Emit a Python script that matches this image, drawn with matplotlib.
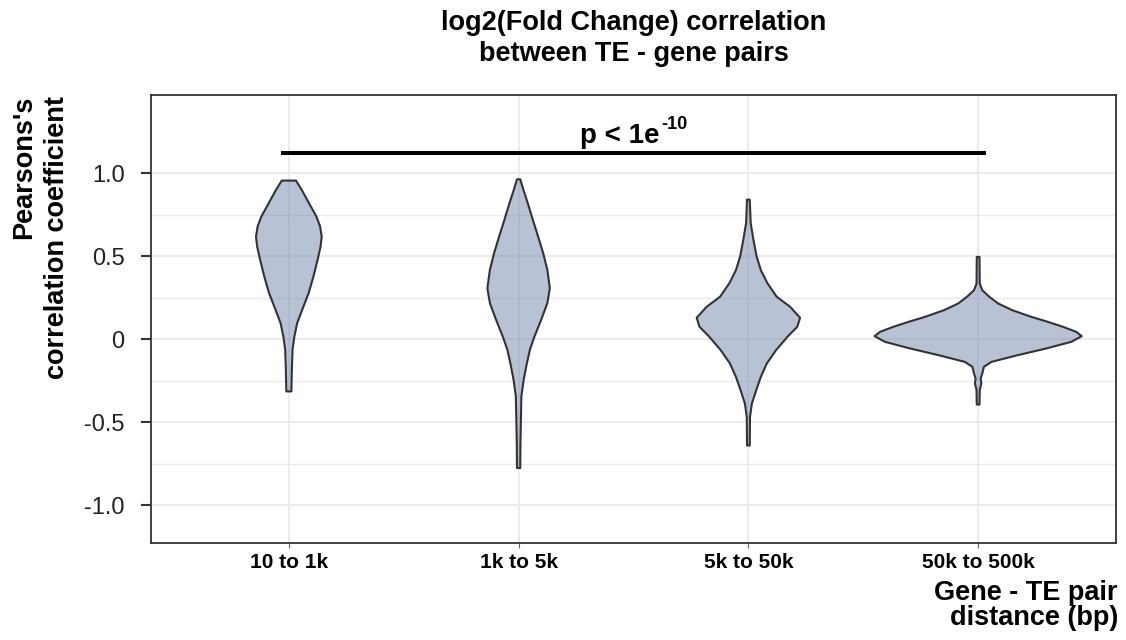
import numpy as np
import matplotlib
matplotlib.use("Agg")
import matplotlib.pyplot as plt
from matplotlib.colors import to_rgba

plt.rcParams['font.family'] = ['Liberation Sans', 'DejaVu Sans']

# categories (distance between gene and TE)
categories = ['10 to 1k', '1k to 5k', '5k to 50k', '50k to 500k']

# violin outlines: correlation value and half width (category units)
v1_y = [0.956, 0.900, 0.819, 0.739, 0.679, 0.618, 0.558, 0.478, 0.378, 0.277, 0.177, 0.096, 0.016, -0.064, -0.185, -0.315]
v1_w = [0.031, 0.056, 0.088, 0.120, 0.136, 0.143, 0.138, 0.125, 0.107, 0.086, 0.058, 0.036, 0.024, 0.016, 0.013, 0.011]

v2_y = [0.964, 0.900, 0.819, 0.719, 0.618, 0.518, 0.418, 0.307, 0.217, 0.116, 0.016, -0.064, -0.145, -0.245, -0.345, -0.486, -0.627, -0.777]
v2_w = [0.007, 0.021, 0.040, 0.062, 0.085, 0.107, 0.125, 0.136, 0.125, 0.098, 0.069, 0.049, 0.036, 0.022, 0.012, 0.010, 0.008, 0.007]

v3_y = [0.841, 0.700, 0.599, 0.498, 0.417, 0.337, 0.256, 0.196, 0.129, 0.075, 0.014, -0.067, -0.147, -0.228, -0.308, -0.389, -0.470, -0.641]
v3_w = [0.006, 0.010, 0.022, 0.036, 0.054, 0.083, 0.123, 0.181, 0.225, 0.213, 0.170, 0.120, 0.080, 0.054, 0.034, 0.015, 0.007, 0.006]

v4_y = [0.496, 0.335, 0.295, 0.255, 0.215, 0.175, 0.135, 0.104, 0.074, 0.044, 0.018, -0.016, -0.056, -0.096, -0.137, -0.167, -0.207, -0.237, -0.267, -0.307, -0.394]
v4_w = [0.006, 0.007, 0.018, 0.049, 0.087, 0.148, 0.230, 0.304, 0.370, 0.427, 0.451, 0.406, 0.297, 0.174, 0.058, 0.025, 0.018, 0.011, 0.014, 0.007, 0.006]

violins = [(v1_y, v1_w), (v2_y, v2_w), (v3_y, v3_w), (v4_y, v4_w)]

# significance bracket
bracket_y = 1.12
bracket_from = 0.965
bracket_to = 4.035
p_main = 'p < 1e'
p_exp = '-10'

fig = plt.figure(figsize=(11.26, 6.4), dpi=100)
ax = fig.add_axes([151/1126, 1-543/640, 965/1126, 448/640])

face = to_rgba('#7287AB', 0.5)
for i, (ys, ws) in enumerate(violins):
    xc = i + 1
    ys = np.array(ys)
    ws = np.array(ws)
    xs = np.concatenate([xc - ws, (xc + ws)[::-1]])
    yy = np.concatenate([ys, ys[::-1]])
    ax.fill(xs, yy, facecolor=face, edgecolor='#333333', linewidth=1.5,
            joinstyle='round', zorder=3)

ax.plot([bracket_from, bracket_to], [bracket_y, bracket_y], color='black', lw=2.9,
        solid_capstyle='butt', zorder=4)
t = ax.text(2.44, 1.181, p_main, ha='center', va='baseline', fontsize=20, fontweight='bold')
ax.annotate(p_exp, xy=(1, 1), xycoords=t, xytext=(1, 5), textcoords='offset points',
            ha='left', va='top', fontsize=13, fontweight='bold')

ax.set_xlim(0.4, 4.6)
ax.set_ylim(-1.229, 1.472)
ax.set_xticks(range(1, 5))
ax.set_xticklabels(categories, fontsize=15, fontweight='bold')
ax.set_yticks([-1, -0.5, 0, 0.5, 1])
ax.set_yticklabels(['-1.0', '-0.5', '0', '0.5', '1.0'], fontsize=17, color='#222222')
ax.set_yticks([-0.75, -0.25, 0.25, 0.75], minor=True)
ax.tick_params(axis='y', which='major', length=7, width=1.5, color='#333333', pad=12)
ax.tick_params(axis='y', which='minor', length=0)
ax.tick_params(axis='x', length=3.5, width=0.8, color='#666666', pad=4)

ax.grid(True, which='major', color='#EBEBEB', lw=1.3)
ax.grid(True, which='minor', axis='y', color='#EBEBEB', lw=1.0)
ax.set_axisbelow(True)
for s in ax.spines.values():
    s.set_color('#333333')
    s.set_linewidth(1.3)

fig.text(633.5/1126, 1-10/640, 'log2(Fold Change) correlation\nbetween TE - gene pairs',
         ha='center', va='top', fontsize=19.5, fontweight='bold', linespacing=1.25)
fig.text(41/1126, 1-96/640, "Pearsons's\ncorrelation coefficient", rotation=90,
         ha='center', va='top', multialignment='right', fontsize=19.5,
         fontweight='bold', linespacing=1.35)
fig.text(1118/1126, 1-580/640, 'Gene - TE pair\ndistance (bp)', ha='right', va='top',
         multialignment='right', fontsize=19.5, fontweight='bold', linespacing=0.95)

fig.savefig('out.png', dpi=100)
